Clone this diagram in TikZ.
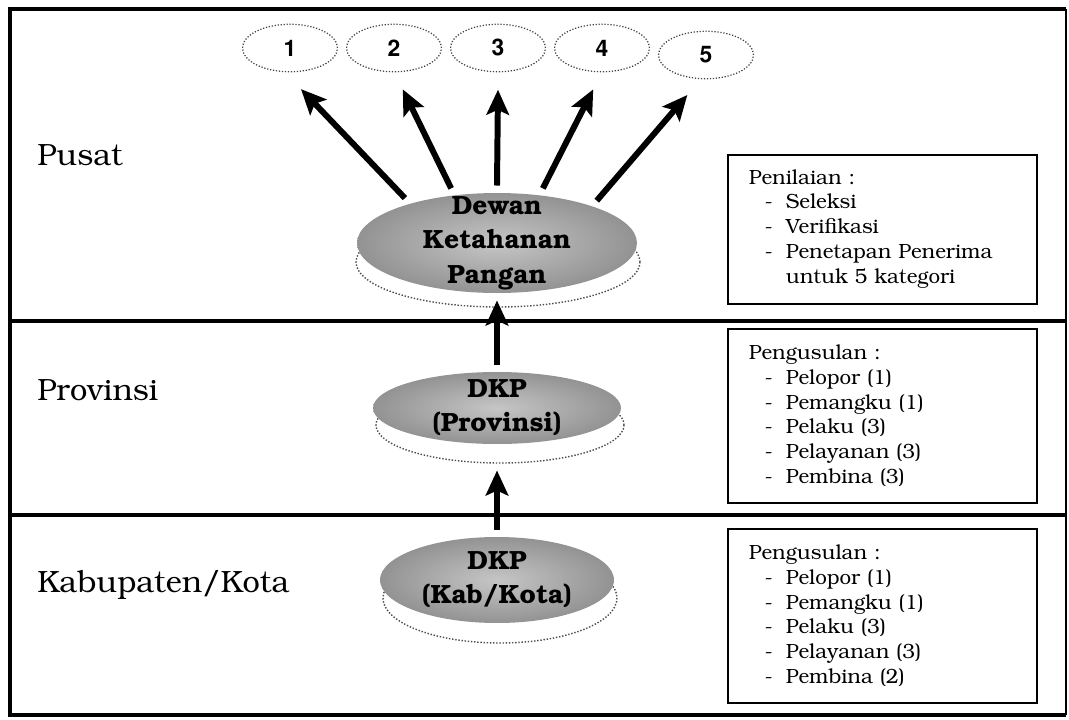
\documentclass[tikz,border=0pt]{standalone}
\usepackage[T1]{fontenc}
\usepackage{bookman}
\usetikzlibrary{arrows.meta,shapes.geometric,positioning}

\newcommand{\itm}[1]{\makebox[0.74cm][r]{-\hspace{0.26cm}}\mbox{#1}}

\tikzset{
  frame/.style={line width=1.8pt},
  levelname/.style={anchor=base west, inner sep=0pt, font=\fontsize{17.5}{20}\selectfont},
  kategori/.style={ellipse, draw=black!75, densely dotted, line width=0.7pt,
    minimum width=1.9cm, minimum height=0.95cm, inner sep=0pt, outer sep=0.36cm,
    font=\fontfamily{phv}\fontsize{13}{15}\bfseries\selectfont},
  lembaga/.style={ellipse, shading=radial, inner color=gray!45, outer color=gray!85,
    inner sep=0pt, outer sep=0.15cm},
  lembagatext/.style={align=center, inner sep=0pt, font=\bfseries\fontsize{15}{19.5}\selectfont},
  ring/.style={densely dotted, draw=black!70, line width=0.8pt},
  alur/.style={line width=3.4pt, -{Stealth[length=0.5cm,width=0.45cm,inset=0.1cm]}},
  ketbox/.style={draw, line width=0.9pt, anchor=north west, align=left,
    text width=5.34cm, inner xsep=0.42cm, font=\fontsize{11.7}{14.2}\selectfont},
}

\begin{document}
\begin{tikzpicture}[x=0.02cm, y=-0.02cm]
  \useasboundingbox (0,0) rectangle (1069,720);

  % frame and levels
  \draw[frame] (1066,9) -- (10,9) -- (10,715) -- (1066,715);
  \draw[line width=0.8pt] (1066,9) -- (1066,715);
  \draw[frame] (10,321) -- (1066,321);
  \draw[frame] (10,515) -- (1066,515);

  \node[levelname] (pusat) at (37,165) {Pusat};
  \node[levelname] (prov) at (37,400) {Provinsi};
  \node[levelname] (kabkota) at (37,592) {Kabupaten/Kota};

  % kategori penerima
  \foreach \i/\x/\y in {1/290/48, 2/394/48, 3/498/48, 4/602/48, 5/706/55}
    \node[kategori] (k\i) at (\x,\y) {\i};

  % dewan & dkp
  \draw[ring] (498,262) ellipse [x radius=142, y radius=45];
  \draw[ring] (500,425) ellipse [x radius=124, y radius=38];
  \draw[ring] (500,598) ellipse [x radius=117, y radius=45];

  \node[lembaga, minimum width=5.6cm, minimum height=2cm,
    label={[lembagatext]center:Dewan\\Ketahanan\\Pangan}] (dkn) at (497,243) {};
  \node[lembaga, minimum width=4.96cm, minimum height=1.44cm,
    label={[lembagatext]center:DKP\\(Provinsi)}] (dkpprov) at (497,408) {};
  \node[lembaga, minimum width=4.68cm, minimum height=1.72cm,
    label={[lembagatext]center:DKP\\(Kab/Kota)}] (dkpkab) at (497,580) {};

  \draw[alur] (dkn.154) -- (k1.-75);
  \draw[alur] (dkn.130) -- (k2.-78);
  \draw[alur] (dkn.90) -- (k3.-90);
  \draw[alur] (dkn.50) -- (k4.-102);
  \draw[alur] (dkn.23) -- (k5.-115);
  \draw[alur] (dkpprov) -- (dkn);
  \draw[alur, shorten >=0.38cm] (dkpkab) -- (dkpprov);

  % keterangan
  \node[ketbox, minimum height=2.98cm] (nilai) at (727,154)
    {Penilaian :\\ \itm{Seleksi}\\ \itm{Verifikasi}\\ \itm{Penetapan Penerima}\\ \hspace*{0.74cm}untuk 5 kategori};
  \node[ketbox, minimum height=3.48cm] (usulprov) at (727,328)
    {Pengusulan :\\ \itm{Pelopor (1)}\\ \itm{Pemangku (1)}\\ \itm{Pelaku (3)}\\ \itm{Pelayanan (3)}\\ \itm{Pembina (3)}};
  \node[ketbox, minimum height=3.48cm] (usulkab) at (727,528)
    {Pengusulan :\\ \itm{Pelopor (1)}\\ \itm{Pemangku (1)}\\ \itm{Pelaku (3)}\\ \itm{Pelayanan (3)}\\ \itm{Pembina (2)}};
\end{tikzpicture}
\end{document}
